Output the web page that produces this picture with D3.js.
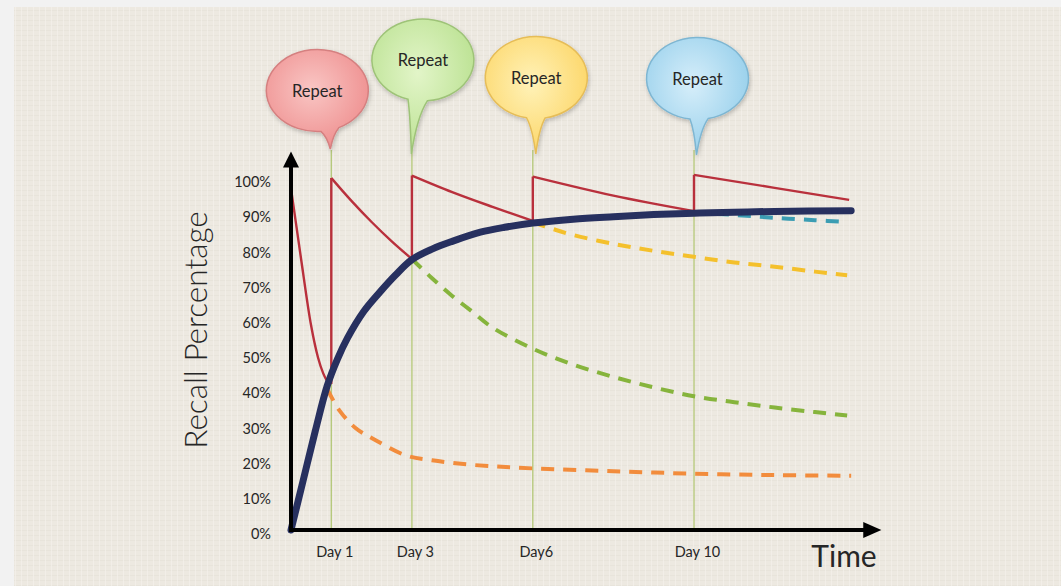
<!DOCTYPE html>
<html>
<head>
<meta charset="UTF-8">
<title>Spaced repetition - recall curve</title>
<script src="https://cdn.jsdelivr.net/npm/d3@7"></script>
<style>
  body { margin: 0; background: #f2f2f2; }
  svg { display: block; }
  text { font-family: Lato, "Open Sans", sans-serif; fill: #262626; }
</style>
</head>
<body>
<div id="chart"></div>
<script>
// ---- values ----
var yTicks = [0, 10, 20, 30, 40, 50, 60, 70, 80, 90, 100];
var repeatDays = [1, 3, 6, 10];
var dayLabels = ['Day 1', 'Day 3', 'Day6', 'Day 10'];
var bubbleText = 'Repeat';

// blue: what is kept after each repeat  [day, %]
var memoryCurve = [[0, 0], [0.3, 14], [0.6, 28], [0.9, 41], [1.15, 48.5], [1.4, 54.5], [1.8, 62],
  [2.2, 67.5], [2.6, 72.5], [3, 76.8], [3.5, 79.8], [4, 82], [4.7, 84.6], [5.3, 86], [6, 87.2],
  [7, 88.3], [8, 89], [9, 89.6], [10, 90], [11, 90.3], [12, 90.5], [13.9, 90.7]];

// red: forgetting between the repeats, one stretch each
var forget0 = [[0, 97], [0.25, 77], [0.5, 58], [0.67, 49], [0.8, 44.5], [0.92, 42], [1, 41.5]];
var forget1 = [[1, 100], [1.5, 93.5], [2, 87.5], [2.5, 82], [3, 77]];
var forget2 = [[3, 100.7], [4, 96], [5, 91.8], [6, 87.8]];
var forget3 = [[6, 100.4], [8, 95], [10, 90.6]];
var forget4 = [[10, 100.9], [12, 97.2], [13.85, 93.8]];

// dashed: forgetting if the next repeat is skipped
var skip1 = [[0.9, 40], [1.2, 34], [1.6, 29], [2.1, 25.5], [2.85, 21.2], [3.5, 19.8], [4.5, 18.5],
  [6, 17.5], [8, 16.7], [10, 16], [12, 15.6], [13.9, 15.4]];
var skip3 = [[3, 77], [3.5, 71.5], [4, 66.5], [4.5, 62], [5, 57.5], [6, 51.5], [7, 47], [8, 43.5],
  [9, 40.5], [10, 38], [11, 36.3], [12, 34.8], [13, 33.5], [13.8, 32.5]];
var skip6 = [[6, 87.4], [6.5, 85.5], [7, 83.8], [8, 81.3], [9, 79.3], [10, 77.6], [11, 76],
  [12, 74.8], [13, 73.4], [13.8, 72.4]];
var skip10 = [[10, 90.2], [11, 89.5], [12, 88.7], [13, 88], [13.8, 87.5]];

// ---- layout ----
var W = 1061, H = 586;

var x = d3.scaleLinear().domain([0, 10]).range([291, 694]);
var y = d3.scaleLinear().domain([0, 100]).range([530, 178]);

var svg = d3.select('#chart').append('svg')
  .attr('width', W).attr('height', H);

var defs = svg.append('defs');

// linen-like paper
var pat = defs.append('pattern').attr('id', 'linen')
  .attr('width', 6).attr('height', 5).attr('patternUnits', 'userSpaceOnUse');
pat.append('rect').attr('width', 6).attr('height', 5).attr('fill', '#ede9e1');
pat.append('rect').attr('y', 0).attr('width', 6).attr('height', 1).attr('fill', '#e4dfd6').attr('opacity', 0.5);
pat.append('rect').attr('x', 3).attr('width', 1).attr('height', 5).attr('fill', '#f4f1eb').attr('opacity', 0.7);

var shadow = defs.append('filter').attr('id', 'shadow')
  .attr('x', '-20%').attr('y', '-20%').attr('width', '140%').attr('height', '140%');
shadow.append('feDropShadow').attr('dx', 1).attr('dy', 2).attr('stdDeviation', 2)
  .attr('flood-color', '#000').attr('flood-opacity', 0.22);

svg.append('rect').attr('x', 14).attr('y', 7).attr('width', W - 14).attr('height', H - 7)
  .attr('fill', 'url(#linen)');

// Repeat guides
svg.append('g').selectAll('line').data(repeatDays).enter().append('line')
  .attr('x1', function(d) { return x(d); }).attr('x2', function(d) { return x(d); })
  .attr('y1', 150).attr('y2', y(0))
  .attr('stroke', '#b4c878').attr('stroke-width', 1.3);

var line = d3.line()
  .x(function(d) { return x(d[0]); })
  .y(function(d) { return y(d[1]); })
  .curve(d3.curveMonotoneX);

var smooth = d3.line()
  .x(function(d) { return x(d[0]); })
  .y(function(d) { return y(d[1]); })
  .curve(d3.curveCatmullRom.alpha(0.5));

// dashed series
var dashed = [
  { data: skip1, color: '#f28c3c' },
  { data: skip3, color: '#86b43c' },
  { data: skip6, color: '#f4c02c' },
  { data: skip10, color: '#3b9db3' }
];
svg.append('g').selectAll('path').data(dashed).enter().append('path')
  .attr('d', function(d) { return smooth(d.data); })
  .attr('fill', 'none')
  .attr('stroke', function(d) { return d.color; })
  .attr('stroke-width', 4)
  .attr('stroke-dasharray', '13,9');

// red saw-tooth
var forget = [forget0, forget1, forget2, forget3, forget4];
var red = svg.append('g').attr('fill', 'none').attr('stroke', '#b9303c').attr('stroke-width', 2.4);
red.selectAll('path.seg').data(forget).enter().append('path').attr('class', 'seg')
  .attr('d', line);
red.selectAll('line.jump').data(forget.slice(1)).enter().append('line').attr('class', 'jump')
  .attr('x1', function(d, i) { return x(forget[i][forget[i].length - 1][0]); })
  .attr('x2', function(d) { return x(d[0][0]); })
  .attr('y1', function(d, i) { return y(forget[i][forget[i].length - 1][1]); })
  .attr('y2', function(d) { return y(d[0][1]); });

// blue memory curve
svg.append('path').attr('d', smooth(memoryCurve))
  .attr('fill', 'none').attr('stroke', '#27305f').attr('stroke-width', 7)
  .attr('stroke-linecap', 'round');

// axes with arrows
var ax = svg.append('g');
ax.append('line').attr('x1', x(0)).attr('x2', x(0)).attr('y1', y(0) + 2).attr('y2', y(104))
  .attr('stroke', '#000').attr('stroke-width', 4);
ax.append('line').attr('x1', x(0) - 2).attr('x2', x(14.3)).attr('y1', y(0)).attr('y2', y(0))
  .attr('stroke', '#000').attr('stroke-width', 4);
ax.append('path')
  .attr('d', 'M' + (x(0) - 8) + ',' + y(103) + 'L' + x(0) + ',' + y(107.5) + 'L' + (x(0) + 8) + ',' + y(103) + 'Z')
  .attr('fill', '#000');
ax.append('path')
  .attr('d', 'M' + x(14.2) + ',' + (y(0) - 8) + 'L' + x(14.65) + ',' + y(0) + 'L' + x(14.2) + ',' + (y(0) + 8) + 'Z')
  .attr('fill', '#000');

// tick labels
var yAxis = svg.append('g').attr('transform', 'translate(' + x(0) + ',0)')
  .call(d3.axisLeft(y).tickValues(yTicks).tickSize(0).tickPadding(20)
    .tickFormat(function(d) { return d + '%'; }));
yAxis.select('.domain').remove();
yAxis.selectAll('text').attr('dy', '0.6em')
  .style('font-family', 'Lato, sans-serif').style('font-size', '14.5px').attr('fill', '#2a2a2a');

var xAxis = svg.append('g').attr('transform', 'translate(0,' + y(0) + ')')
  .call(d3.axisBottom(x).tickValues(repeatDays).tickSize(0).tickPadding(17)
    .tickFormat(function(d, i) { return dayLabels[i]; }));
xAxis.select('.domain').remove();
xAxis.selectAll('text').attr('dx', 3)
  .style('font-family', 'Lato, sans-serif').style('font-size', '14.5px').attr('fill', '#2a2a2a');

svg.append('text').attr('transform', 'translate(207,330) rotate(-90)')
  .attr('text-anchor', 'middle').style('font-size', '31.5px').style('font-weight', 300)
  .attr('fill', '#111').text('Recall Percentage');

svg.append('text').attr('x', 844).attr('y', 567).attr('text-anchor', 'middle')
  .style('font-size', '30px').style('font-weight', 400).attr('fill', '#111').text('Time');

// speech bubbles, tip on each repeat day
var bubbles = [
  { day: 1, dx: -14, dtip: -1, cy: 90.5, tip: 149, a0: 65, a1: 86, light: '#f9c6c4', dark: '#ee8c8c', stroke: '#d58080' },
  { day: 3, dx: 11, dtip: -0.5, cy: 60, tip: 154, a0: 85, a1: 107, light: '#e2f5c8', dark: '#b8e08e', stroke: '#9ec378' },
  { day: 6, dx: 3.5, dtip: 3, cy: 77.5, tip: 154, a0: 80, a1: 101, light: '#fff2b8', dark: '#fcd462', stroke: '#e6bd58' },
  { day: 10, dx: 3.5, dtip: 2.5, cy: 78.5, tip: 155, a0: 78, a1: 98.5, light: '#d6eefa', dark: '#92cdea', stroke: '#7eb6d2' }
];
var rx = 51, ry = 41;

bubbles.forEach(function(b, i) {
  var g = defs.append('radialGradient').attr('id', 'bg' + i)
    .attr('cx', '45%').attr('cy', '40%').attr('r', '65%');
  g.append('stop').attr('offset', '0%').attr('stop-color', b.light);
  g.append('stop').attr('offset', '100%').attr('stop-color', b.dark);
});

function bubblePath(b) {
  var tx = x(b.day) + b.dtip, ty = b.tip;
  var cx = x(b.day) + b.dx, cy = b.cy;
  var p = function(a) {
    var r = a * Math.PI / 180;
    return [cx + rx * Math.cos(r), cy + ry * Math.sin(r)];
  };
  var pr = p(b.a0), pl = p(b.a1);
  var c1 = [tx + (pr[0] - tx) * 0.35, pr[1] + (ty - pr[1]) * 0.3];
  var c2 = [tx + (pl[0] - tx) * 0.35, pl[1] + (ty - pl[1]) * 0.3];
  return 'M' + pr + 'Q' + c1 + ' ' + tx + ',' + ty + 'Q' + c2 + ' ' + pl +
    'A' + rx + ',' + ry + ' 0 1 1 ' + pr + 'Z';
}

var bub = svg.append('g').selectAll('g').data(bubbles).enter().append('g');
bub.append('path').attr('d', bubblePath)
  .attr('fill', function(d, i) { return 'url(#bg' + i + ')'; })
  .attr('stroke', function(d) { return d.stroke; }).attr('stroke-width', 1.5)
  .attr('filter', 'url(#shadow)');
bub.append('text')
  .attr('x', function(d) { return x(d.day) + d.dx; })
  .attr('y', function(d) { return d.cy + 6; })
  .attr('text-anchor', 'middle').style('font-size', '16.5px').attr('fill', '#2b2b2b')
  .text(bubbleText);
</script>
</body>
</html>
